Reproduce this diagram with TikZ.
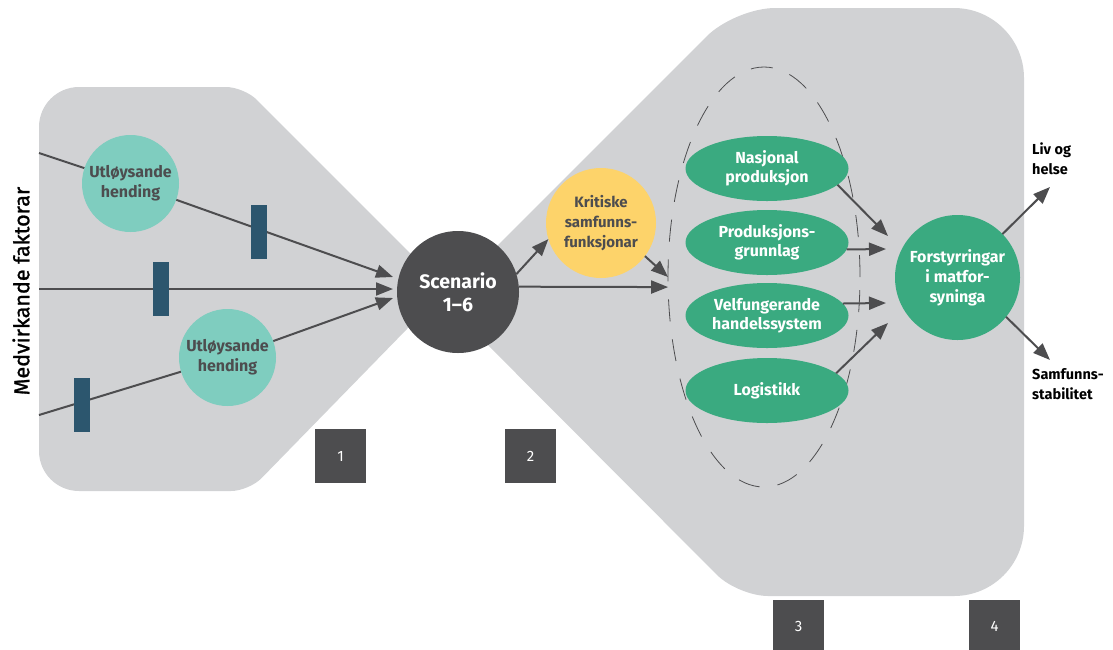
\documentclass[tikz,border=0pt]{standalone}
\usepackage{fontspec}
\setmainfont{Fira Sans}
\newfontfamily\medfont{Fira Sans}[FakeBold=1.2]
\usetikzlibrary{arrows.meta,shapes.geometric}
\definecolor{cgray}{HTML}{D1D2D4}
\definecolor{cdark}{HTML}{4D4D4F}
\definecolor{cteal}{HTML}{7FCDBF}
\definecolor{cgreen}{HTML}{3AAA80}
\definecolor{cyellow}{HTML}{FDD36A}
\definecolor{cbar}{HTML}{2C566E}
\pgfdeclarelayer{bg}
\pgfdeclarelayer{lines}
\pgfsetlayers{bg,lines,main}
\begin{document}
\begin{tikzpicture}[x=1pt,y=-1pt,
  arr/.style={draw=cdark,line width=2pt,-{Triangle[length=17pt,width=13pt]}},
  trig/.style={circle,fill=cteal,minimum size=97pt,inner sep=0pt,outer sep=0pt,
    text=cdark,align=center,font=\fontsize{16}{20}\selectfont\bfseries},
  bar/.style={rectangle,fill=cbar,minimum width=16pt,minimum height=54pt,inner sep=0pt},
  gell/.style={ellipse,fill=cgreen,minimum width=163pt,minimum height=65pt,inner sep=0pt,
    outer sep=0pt,text=white,align=center,font=\fontsize{16}{19}\selectfont\bfseries},
  numbox/.style={rectangle,fill=cdark,minimum width=51pt,minimum height=54pt,inner sep=0pt,
    text=white,font=\fontsize{15}{18}\selectfont},
  outlbl/.style={anchor=north west,align=left,inner sep=0pt,text=black,
    font=\fontsize{14.5}{20}\selectfont\bfseries}
]
\useasboundingbox (0,0) rectangle (1113,649);
% background shapes
\begin{pgfonlayer}{bg}
\fill[cgray] (446,289) [rounded corners=18pt] -- (244,87) [rounded corners=40pt] -- (39,87)
  -- (39,491) [rounded corners=18pt] -- (249,491) -- cycle;
\fill[cgray] (443,300) [rounded corners=40pt] -- (735,8) [rounded corners=70pt] -- (1024,8)
  -- (1024,596) [rounded corners=30pt] -- (738,596) -- cycle;
\end{pgfonlayer}
% label
\node[rotate=90,font=\fontsize{21.5}{26}\selectfont\medfont,text=black] (mf) at (21,291) {Medvirkande faktorar};
% start points and tips
\coordinate (s1) at (39,153);
\coordinate (s2) at (39,289);
\coordinate (s3) at (39,415);
\coordinate (t1) at (393,277);
\coordinate (t2) at (393,289);
\coordinate (t3) at (393,298);
% nodes
\node[trig] (u1) at (130.5,183.5) {Utløysande\\hending};
\node[trig] (u2) at (227.5,357.5) {Utløysande\\hending};
\node[bar] (b1) at (259,232) {};
\node[bar] (b2) at (161,289) {};
\node[bar] (b3) at (82,405) {};
\node[circle,fill=cdark,minimum size=122pt,inner sep=0pt,outer sep=0pt,text=white,align=center,
  font=\fontsize{19.5}{23}\selectfont\bfseries] (scen) at (458,292) {Scenario\\1--6};
\node[circle,fill=cyellow,minimum size=110pt,inner sep=0pt,outer sep=0pt,text=cdark,align=center,
  font=\fontsize{15}{20}\selectfont\bfseries] (krit) at (601,223) {Kritiske\\samfunns-\\funksjonar};
\node[ellipse,draw=cdark,line width=0.8pt,dash pattern=on 22pt off 18pt,minimum width=192pt,
  minimum height=420pt,inner sep=0pt,outer sep=0pt] (grp) at (764,277) {};
\node[gell] (nas) at (767,168.5) {Nasjonal\\produksjon};
\node[gell] (prod) at (767,242.5) {Produksjons-\\grunnlag};
\node[gell] (velf) at (767,315.5) {Velfungerande\\handelssystem};
\node[gell] (logi) at (767,390.5) {Logistikk};
\node[circle,fill=cgreen,minimum size=125pt,inner sep=0pt,outer sep=0pt,text=white,align=center,
  font=\fontsize{16}{20}\selectfont\bfseries] (forst) at (957.5,277.5) {Forstyrringar\\i matfor-\\syninga};
\node[outlbl] (liv) at (1032,143) {Liv og\\helse};
\node[outlbl] (samf) at (1032,368) {Samfunns-\\stabilitet};
\coordinate (fa) at (888,236);
\coordinate (fb) at (886,249);
\coordinate (fc) at (886,303);
\coordinate (fd) at (888,323);
\coordinate (la) at (1050,187);
\coordinate (lb) at (1050,360);
% number boxes
\node[numbox] (n1) at (340.5,456) {1};
\node[numbox] (n2) at (530.5,456) {2};
\node[numbox] (n3) at (798.5,626.5) {3};
\node[numbox] (n4) at (994.5,626.5) {4};
% connectors
\begin{pgfonlayer}{lines}
\draw[arr] (s1) -- (u1) -- (t1);
\draw[arr] (s2) -- (t2);
\draw[arr] (s3) -- (u2) -- (t3);
\end{pgfonlayer}
\draw[arr] (scen.17) -- (krit.197);
\draw[arr] (scen.5) -- (grp.186);
\draw[arr] (krit.-37) -- (grp.180);
\draw[arr] (nas.-13) -- (fa);
\draw[arr] (prod.-5) -- (fb);
\draw[arr] (velf.9) -- (fc);
\draw[arr] (logi.14) -- (fd);
\draw[arr] (forst.44) -- (la);
\draw[arr] (forst.-39) -- (lb);
\end{tikzpicture}
\end{document}
